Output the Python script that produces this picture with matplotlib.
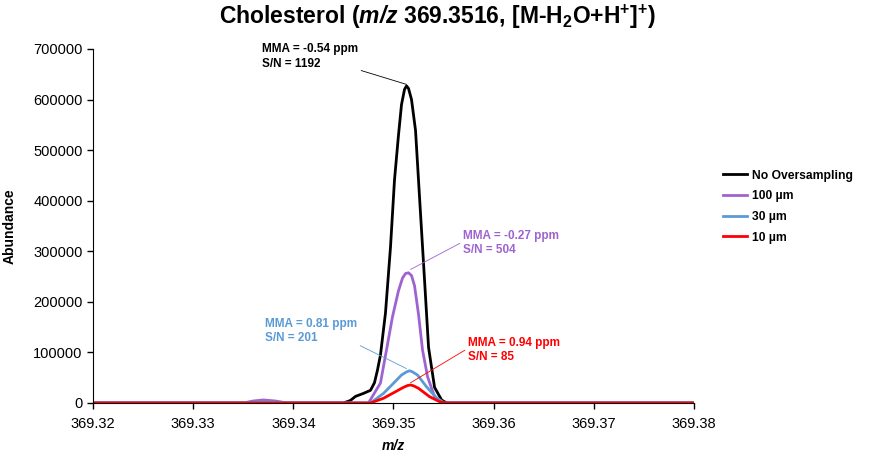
import matplotlib
matplotlib.use('Agg')
import matplotlib.pyplot as plt

plt.rcParams['font.family'] = ['Liberation Sans', 'DejaVu Sans']
plt.rcParams['mathtext.fontset'] = 'custom'
plt.rcParams['mathtext.rm'] = 'Liberation Sans'
plt.rcParams['mathtext.it'] = 'Liberation Sans:italic'
plt.rcParams['mathtext.bf'] = 'Liberation Sans:bold'
plt.rcParams['mathtext.bfit'] = 'Liberation Sans:bold:italic'

# spectra (m/z, abundance)
mz_black = [369.32, 369.3450, 369.3457, 369.3462, 369.3470, 369.3477, 369.3481, 369.3484,
            369.3487, 369.3492, 369.3497, 369.3501, 369.3505, 369.3508, 369.3511, 369.3513,
            369.3515, 369.3518, 369.3522, 369.3526, 369.3531, 369.3535, 369.3541, 369.3548,
            369.3553, 369.38]
ab_black = [0, 0, 5000, 13000, 19000, 25000, 40000, 65000,
            95000, 178000, 308000, 441000, 530000, 590000, 620000, 627000,
            622000, 600000, 539000, 407000, 243000, 110000, 31000, 6000,
            0, 0]

mz_100 = [369.32, 369.3350, 369.3360, 369.3370, 369.3382, 369.3394, 369.3475, 369.3487,
          369.3493, 369.3499, 369.3505, 369.3509, 369.3512, 369.3515, 369.3518, 369.3521,
          369.3525, 369.3529, 369.3534, 369.3541, 369.3549, 369.38]
ab_100 = [0, 0, 4000, 6000, 4000, 0, 0, 39500,
          104700, 170500, 222000, 247000, 256000, 257500, 252000, 232000,
          175000, 104700, 52000, 12500, 0, 0]

mz_30 = [369.32, 369.3350, 369.3370, 369.3394, 369.3477, 369.3490, 369.3500, 369.3508,
         369.3513, 369.3516, 369.3519, 369.3524, 369.3533, 369.3543, 369.3551, 369.38]
ab_30 = [0, 0, 2000, 0, 0, 19000, 39000, 55300,
         61500, 63800, 61500, 55300, 32000, 10000, 0, 0]

mz_10 = [369.32, 369.3477, 369.3490, 369.3502, 369.3510, 369.3514, 369.3517, 369.3520,
         369.3525, 369.3536, 369.3546, 369.3553, 369.38]
ab_10 = [0, 0, 9300, 22300, 31000, 34500, 35600, 34000,
         29000, 12500, 2600, 0, 0]

c_black = 'black'
c_100 = '#9E63D0'
c_30 = '#5B9BD5'
c_10 = '#FF0000'

fig = plt.figure(figsize=(8.8, 4.68), dpi=100)
ax = fig.add_axes([0.1057, 0.1389, 0.6829, 0.7564])

ax.plot(mz_black, ab_black, color=c_black, lw=2, label='No Oversampling')
ax.plot(mz_100, ab_100, color=c_100, lw=2, label='100 µm')
ax.plot(mz_30, ab_30, color=c_30, lw=2, label='30 µm')
ax.plot(mz_10, ab_10, color=c_10, lw=2, label='10 µm')

ax.set_xlim(369.32, 369.38)
ax.set_ylim(0, 700000)
ax.set_xticks([369.32, 369.33, 369.34, 369.35, 369.36, 369.37, 369.38])
ax.set_xticklabels(['369.32', '369.33', '369.34', '369.35', '369.36', '369.37', '369.38'])
ax.set_yticks(range(0, 700001, 100000))
ax.tick_params(labelsize=10.5, length=4, width=1)
ax.tick_params(axis='x', pad=6)
ax.spines['top'].set_visible(False)
ax.spines['right'].set_visible(False)

ax.set_xlabel('m/z', fontsize=10, fontweight='bold', style='italic', labelpad=6)
ax.set_ylabel('Abundance', fontsize=10, fontweight='bold', labelpad=12)
fig.suptitle(r'Cholesterol ($\mathbfit{m/z}$ 369.3516, [M-H$_\mathbf{2}$O+H$^\mathbf{+}$]$^\mathbf{+}$)',
             fontsize=16.5, fontweight='bold', x=0.497, y=0.995)

# peak annotations
def note(txt, xy, xytext, col, rel):
    ax.annotate(txt, xy=xy, xytext=xytext, color=col, fontsize=8.5, fontweight='bold',
                va='top', ha='left', linespacing=1.25,
                arrowprops=dict(arrowstyle='-', color=col, lw=0.6, shrinkA=0, shrinkB=0,
                                relpos=rel))

note('MMA = -0.54 ppm\nS/N = 1192', (369.3513, 630000), (369.3369, 711000), c_black, (1.0, 0.0))
note('MMA = -0.27 ppm\nS/N = 504', (369.3517, 264000), (369.3569, 342000), c_100, (0.0, 0.55))
note('MMA = 0.81 ppm\nS/N = 201', (369.3513, 68000), (369.3372, 168000), c_30, (1.0, 0.0))
note('MMA = 0.94 ppm\nS/N = 85', (369.3517, 40000), (369.3574, 131000), c_10, (0.0, 0.55))

leg = ax.legend(loc='upper left', bbox_to_anchor=(1.03, 0.69), frameon=False,
                fontsize=8.7, handlelength=2.0, handletextpad=0.4, labelspacing=0.72)
for t in leg.get_texts():
    t.set_fontweight('bold')

fig.savefig('out.png', dpi=100)
